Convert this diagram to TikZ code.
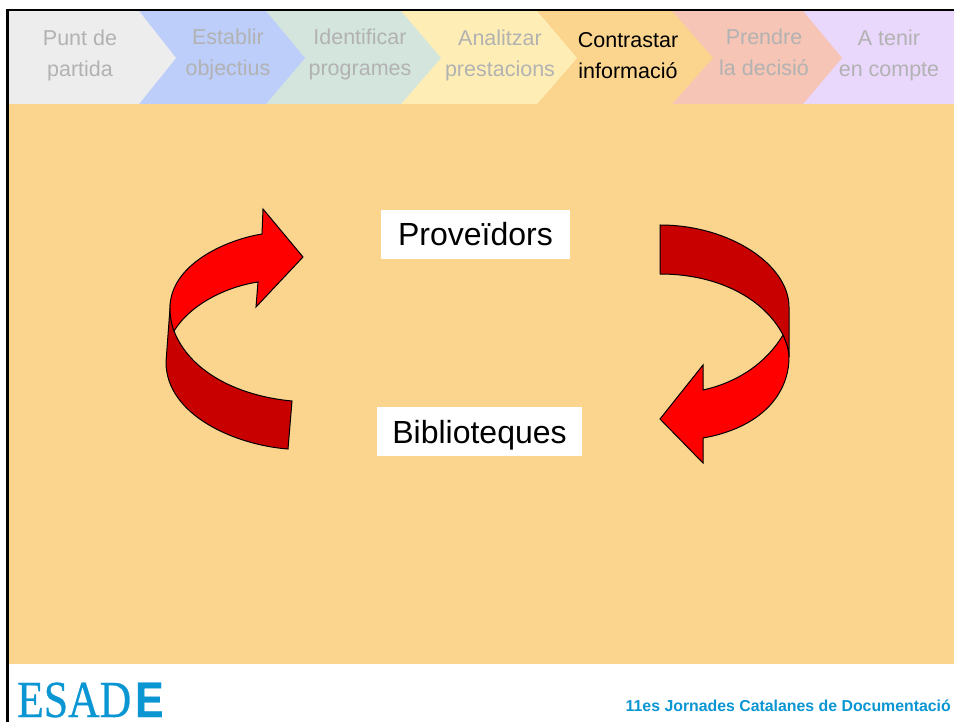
\documentclass[tikz,border=0pt]{standalone}
\usepackage{fontspec}
\setmainfont{Liberation Sans}
\newfontfamily\logoserif[FakeBold=0.6]{Liberation Serif}
\newfontfamily\logosans[FakeBold=0.5]{Liberation Sans Bold}
\definecolor{tabgrey}{HTML}{EDEDED}
\definecolor{tabblue}{HTML}{BDCEFB}
\definecolor{tabgreen}{HTML}{D3E5DD}
\definecolor{tabyellow}{HTML}{FEEEB5}
\definecolor{taborange}{HTML}{FBD48E}
\definecolor{tabpink}{HTML}{F6C5B5}
\definecolor{tabpurple}{HTML}{E9D7FC}
\definecolor{fadetext}{HTML}{B2B2B2}
\definecolor{esadblue}{HTML}{0A96D2}
\definecolor{darkred}{HTML}{C80000}
\tikzset{
  tabtext/.style={align=center,inner sep=0pt,text=fadetext,font=\fontsize{21.5}{31}\selectfont},
  activetext/.style={tabtext,text=black},
  whitelabel/.style={fill=white,inner sep=0pt,font=\fontsize{32}{36}\selectfont},
  ribbon/.style={draw=black,line width=1pt,line join=miter}
}
\begin{document}
\begin{tikzpicture}[x=1pt,y=-1pt]
\useasboundingbox (0,0) rectangle (954,722);
\fill[white] (0,0) rectangle (954,722);
% body
\fill[taborange] (8,104) rectangle (954,664);
% tabs (back to front, right to left)
\fill[tabpurple] (803,11) -- (954,11) -- (954,104) -- (803,104) -- cycle;
\fill[tabpink] (672,11) -- (803,11) -- (842,58) -- (803,104) -- (672,104) -- cycle;
\fill[taborange] (537,11) -- (672,11) -- (713,58) -- (672,104) -- (537,104) -- cycle;
\fill[tabyellow] (401,11) -- (537,11) -- (577,58) -- (537,104) -- (401,104) -- cycle;
\fill[tabgreen] (266,11) -- (401,11) -- (441,58) -- (401,104) -- (266,104) -- cycle;
\fill[tabblue] (139,11) -- (266,11) -- (305,58) -- (266,104) -- (139,104) -- cycle;
\fill[tabgrey] (8,11) -- (139,11) -- (176,58) -- (139,104) -- (8,104) -- cycle;
% frame
\fill[black] (6,9) rectangle (954,11.5);
\fill[black] (6,9) rectangle (8.5,722);
% tab labels
\node[tabtext] (t1) at (80,55) {Punt de\\partida};
\node[tabtext] (t2) at (228,54) {Establir\\objectius};
\node[tabtext] (t3) at (360,54) {Identificar\\programes};
\node[tabtext] (t4) at (500,55) {Analitzar\\prestacions};
\node[activetext] (t5) at (628,56) {Contrastar\\informació};
\node[tabtext] (t6) at (764,52.5) {Prendre\\la decisió};
\node[tabtext] (t7) at (889,55) {A tenir\\en compte};
% left ribbon arrow
\draw[ribbon,fill=darkred] (170,308) -- (166,362)
  .. controls (166,415) and (235,445) .. (288,449)
  -- (292,401)
  .. controls (238,396) and (190,372) .. (174,331) -- cycle;
\draw[ribbon,fill=red] (170,308)
  .. controls (170,265) and (225,240) .. (262,234)
  -- (263,209) -- (303,257) -- (256,307) -- (258,282)
  .. controls (225,287) and (190,305) .. (174,331)
  .. controls (171,323) and (170,315) .. (170,308) -- cycle;
% right ribbon arrow
\draw[ribbon,fill=darkred] (660,225)
  .. controls (730,225) and (789,265) .. (789,307)
  -- (789,357) .. controls (789,350) and (786,342) .. (783,335)
  .. controls (765,300) and (720,274) .. (660,274) -- cycle;
\draw[ribbon,fill=red] (783,335)
  .. controls (765,365) and (735,383) .. (703,390)
  -- (703,365) -- (660,419) -- (703,463) -- (703,438)
  .. controls (760,428) and (789,395) .. (789,357)
  .. controls (789,350) and (786,342) .. (783,335) -- cycle;
% labels
\node[whitelabel,minimum width=189pt,minimum height=49pt] (prov) at (475.5,234.5) {Proveïdors};
\node[whitelabel,minimum width=205pt,minimum height=49pt,text height=24pt,text depth=0pt] (bibl) at (479.5,431.5) {Biblioteques};
% footer
\node[anchor=base west,inner sep=0pt,text=esadblue,xscale=0.84,font=\logoserif\fontsize{52}{52}\selectfont] (logo) at (17,717) {ESAD};
\node[anchor=base west,inner sep=0pt,text=esadblue,font=\logosans\fontsize{50}{50}\selectfont] (logoe) at (135,717) {\scalebox{0.85}[1]{E}};
\node[anchor=base east,inner sep=0pt,text=esadblue,font=\bfseries\fontsize{15.85}{18}\selectfont] (foot) at (951,711) {11es Jornades Catalanes de Documentació};
\end{tikzpicture}
\end{document}
